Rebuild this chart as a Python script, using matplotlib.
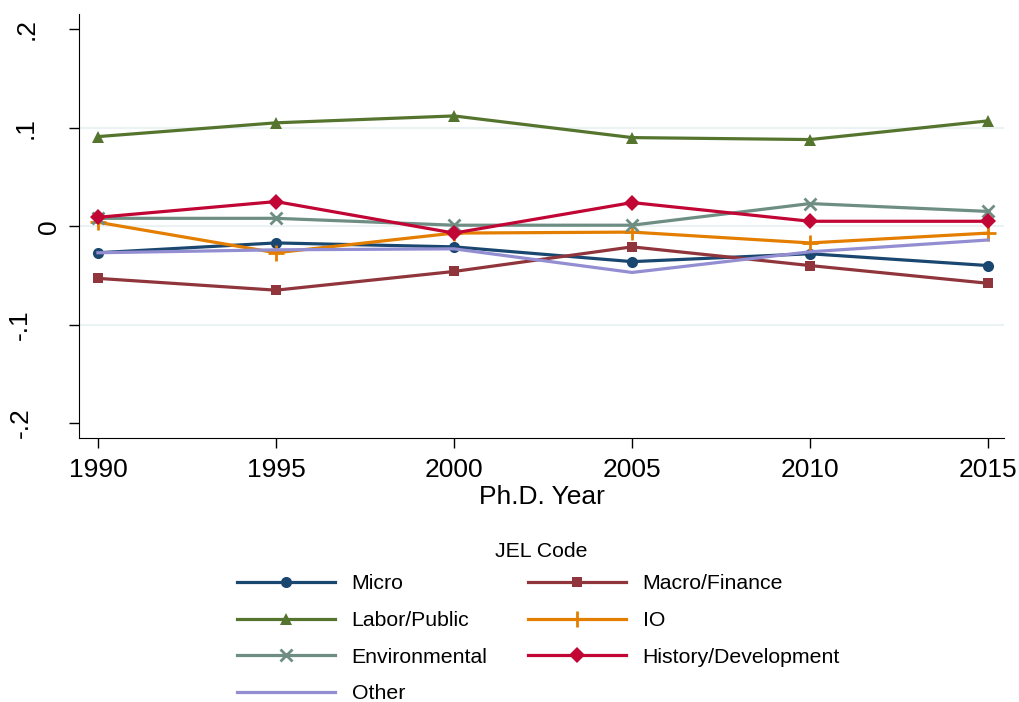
import matplotlib.pyplot as plt
import numpy as np

plt.rcParams['font.family'] = ['Liberation Sans', 'DejaVu Sans']

years = [1990, 1995, 2000, 2005, 2010, 2015]
micro = [-0.027, -0.017, -0.021, -0.036, -0.028, -0.040]
macro = [-0.053, -0.065, -0.046, -0.021, -0.040, -0.058]
labor = [0.091, 0.105, 0.112, 0.090, 0.088, 0.107]
io = [0.004, -0.027, -0.007, -0.006, -0.017, -0.007]
environ = [0.008, 0.008, 0.001, 0.001, 0.023, 0.015]
history = [0.009, 0.025, -0.007, 0.024, 0.005, 0.005]
other = [-0.027, -0.024, -0.023, -0.047, -0.026, -0.014]

yticks = [-0.2, -0.1, 0, 0.1, 0.2]
ytick_labels = ['-.2', '-.1', '0', '.1', '.2']
# Stata places the rotated labels a bit unevenly; pixel offsets from the spine
ylabel_offsets = [-58, -59, -30, -53, -52]

series = [
    ('Micro', micro, '#1a476f', 'o', 8),
    ('Macro/Finance', macro, '#90353b', 's', 7.5),
    ('Labor/Public', labor, '#55752f', '^', 8.5),
    ('IO', io, '#e37e00', '+', 11),
    ('Environmental', environ, '#6e8e84', 'x', 8),
    ('History/Development', history, '#c10534', 'D', 8),
    ('Other', other, '#938dd2', None, 0),
]

fig = plt.figure(figsize=(10.2, 7.02), dpi=100)
# axes box: x 79..1005 px, y 14..438 px
ax = fig.add_axes([0.0775, 0.376, 0.907, 0.604])

handles = {}
for name, vals, col, mk, ms in series:
    kw = dict(color=col, lw=2.3, label=name)
    if mk:
        kw.update(marker=mk, markersize=ms, markeredgewidth=2 if mk in '+x' else 0)
    h, = ax.plot(years, vals, **kw)
    handles[name] = h

for v in [-0.1, 0, 0.1]:
    ax.axhline(v, color='#eaf2f3', lw=1.5, zorder=0)

ax.set_xlim(1989.47, 2015.45)
ax.set_ylim(-0.2152, 0.2155)
ax.set_xticks(years)
ax.set_yticks(yticks)
ax.set_yticklabels([])
for v, lab, dx in zip(yticks, ytick_labels, ylabel_offsets):
    ax.annotate(lab, xy=(0, v), xycoords=('axes fraction', 'data'),
                xytext=(dx, 0), textcoords='offset pixels',
                rotation=90, ha='center', va='center', fontsize=19)
ax.tick_params(axis='both', labelsize=19, length=7.2, width=1, color='black')
ax.tick_params(axis='x', pad=7)
ax.spines['top'].set_visible(False)
ax.spines['right'].set_visible(False)
ax.set_xlabel('Ph.D. Year', fontsize=19, labelpad=2)

order = ['Micro', 'Labor/Public', 'Environmental', 'Other',
         'Macro/Finance', 'IO', 'History/Development']
fig.text(0.531, 0.214, 'JEL Code', fontsize=15.3, ha='center', va='center')
leg = fig.legend([handles[n] for n in order], order, ncol=2, frameon=False,
                 loc='upper center', bbox_to_anchor=(0.528, 0.203),
                 fontsize=15.3, handlelength=4.6, handletextpad=0.8,
                 columnspacing=1.9, labelspacing=0.83, borderpad=0.2)

fig.savefig('out.png', dpi=100)
